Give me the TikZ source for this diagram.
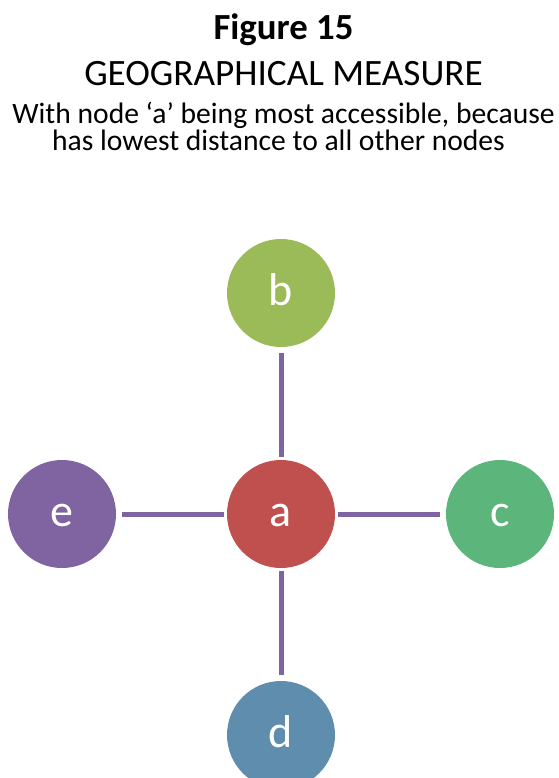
\documentclass[tikz,border=0pt]{standalone}
\usepackage{fontspec}
\setmainfont{Carlito}
\usetikzlibrary{calc}
\definecolor{nodeRed}{HTML}{C0504D}
\definecolor{nodeOlive}{HTML}{9BBB59}
\definecolor{nodeGreen}{HTML}{5CB57B}
\definecolor{nodeBlue}{HTML}{5F8DAD}
\definecolor{nodePurple}{HTML}{8064A2}
\tikzset{
  place node/.style={circle, draw=none, minimum size=108pt, inner sep=0pt,
    text=white, font=\fontsize{46}{46}\selectfont, text height=24pt, text depth=0pt},
  link line/.style={line width=5pt, nodePurple, shorten <=6pt, shorten >=3pt},
  title text/.style={anchor=base, inner sep=0pt},
}
\begin{document}
\begin{tikzpicture}[x=1pt, y=-1pt]
  \useasboundingbox (0,0) rectangle (558,778);
  % heading
  \node[title text, font=\fontsize{36.8}{36.8}\selectfont\bfseries] (fig) at (283.5,40) {Figure 15};
  \node[title text, font=\fontsize{37.2}{37.2}\selectfont] (measure) at (283.5,86) {GEOGRAPHICAL MEASURE};
  \node[title text, font=\fontsize{29.6}{28}\selectfont] (line1) at (283.5,124) {With node ‘a’ being most accessible, because};
  \node[title text, font=\fontsize{29.6}{28}\selectfont] (line2) at (278.5,151) {has lowest distance to all other nodes};
  % nodes
  \node[place node, fill=nodeRed] (a) at (281,514) {a};
  \node[place node, fill=nodeOlive] (b) at (281,293) {b};
  \node[place node, fill=nodeGreen] (c) at (500,514) {c};
  \node[place node, fill=nodeBlue] (d) at (281,735) {d};
  \node[place node, fill=nodePurple] (e) at (62,514) {e};
  % links
  \draw[link line] (b) -- (a);
  \draw[link line] (c) -- (a);
  \draw[link line] (d) -- (a);
  \draw[link line] (e) -- (a);
\end{tikzpicture}
\end{document}
